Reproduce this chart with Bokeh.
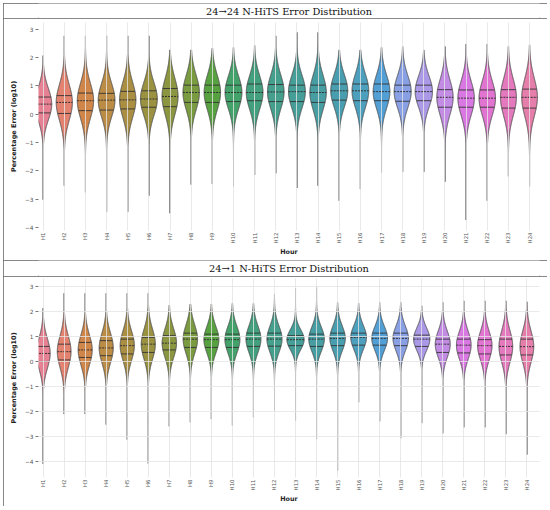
import math
import colorsys
import numpy as np
from bokeh.plotting import figure
from bokeh.layouts import column
from bokeh.models import Range1d, FixedTicker, ColumnDataSource
from bokeh.core.properties import value
from bokeh.embed import file_html
from bokeh.resources import INLINE

# ---------------- data ----------------
hours = [f"H{i}" for i in range(1, 25)]
titles = ["24\u219224 N-HiTS Error Distribution", "24\u21921 N-HiTS Error Distribution"]
y_ticks = [-4, -3, -2, -1, 0, 1, 2, 3]

# panel 1: 24 -> 24
top_q1 = [0.04, 0.02, 0.12, 0.14, 0.18, 0.24, 0.26, 0.41, 0.41, 0.44, 0.47, 0.44,
          0.44, 0.41, 0.49, 0.47, 0.47, 0.45, 0.47, 0.24, 0.24, 0.24, 0.21, 0.21]
top_med = [0.35, 0.41, 0.47, 0.49, 0.50, 0.53, 0.62, 0.76, 0.76, 0.76, 0.76, 0.78,
           0.79, 0.76, 0.82, 0.82, 0.79, 0.79, 0.79, 0.59, 0.56, 0.56, 0.59, 0.59]
top_q3 = [0.60, 0.65, 0.74, 0.73, 0.80, 0.82, 0.90, 1.02, 1.02, 1.02, 1.06, 1.04,
          1.02, 1.02, 1.06, 1.06, 1.06, 1.02, 1.02, 0.86, 0.85, 0.85, 0.86, 0.88]
top_min = [-3.02, -2.53, -2.76, -3.45, -3.45, -2.88, -3.50, -2.49, -2.47, -2.55, -2.15, -2.09,
           -2.61, -2.53, -3.06, -2.65, -2.06, -2.04, -2.04, -2.39, -3.74, -3.06, -2.20, -2.55]
top_max = [2.06, 2.76, 2.76, 2.76, 2.76, 2.76, 2.26, 2.26, 2.32, 2.35, 2.42, 2.76,
           2.88, 2.88, 2.26, 2.26, 2.35, 2.38, 2.26, 2.38, 2.47, 2.47, 2.39, 2.44]

# panel 2: 24 -> 1
bot_q1 = [0.01, 0.07, 0.17, 0.24, 0.31, 0.37, 0.47, 0.57, 0.57, 0.57, 0.61, 0.62,
          0.64, 0.61, 0.64, 0.66, 0.66, 0.64, 0.61, 0.37, 0.35, 0.31, 0.27, 0.27]
bot_med = [0.33, 0.40, 0.47, 0.55, 0.64, 0.70, 0.74, 0.90, 0.88, 0.88, 0.90, 0.90,
           0.88, 0.90, 0.93, 0.97, 0.93, 0.93, 0.90, 0.70, 0.66, 0.64, 0.61, 0.60]
bot_q3 = [0.61, 0.70, 0.77, 0.84, 0.90, 0.97, 1.04, 1.14, 1.10, 1.10, 1.14, 1.14,
          1.04, 1.10, 1.14, 1.14, 1.14, 1.14, 1.06, 0.90, 0.90, 0.88, 0.90, 0.90]
bot_min = [-4.08, -2.09, -2.09, -2.51, -3.11, -4.06, -2.58, -2.42, -2.29, -2.55, -2.22, -1.95,
           -2.35, -3.09, -4.35, -1.62, -2.38, -3.05, -2.45, -2.86, -2.62, -2.62, -2.89, -3.71]
bot_max = [2.14, 2.73, 2.73, 2.73, 2.73, 2.73, 2.26, 2.30, 2.30, 2.33, 2.33, 2.70,
           2.93, 2.97, 2.37, 2.34, 2.37, 2.37, 2.23, 2.37, 2.43, 2.43, 2.43, 2.39]

# ---------------- husl palette (seaborn style) ----------------
_M = [[3.2406, -1.5372, -0.4986], [-0.9689, 1.8758, 0.0415], [0.0557, -0.2040, 1.0570]]
_refU, _refV = 0.19784, 0.46834


def _max_chroma(L, H):
    hr = math.radians(H)
    sH, cH = math.sin(hr), math.cos(hr)
    sub1 = (L + 16) ** 3 / 1560896.0
    sub2 = sub1 if sub1 > 0.008856 else L / 903.3
    res = float("inf")
    for m1, m2, m3 in _M:
        top = (0.99915 * m1 + 1.05122 * m2 + 1.14460 * m3) * sub2
        rb = 0.86330 * m3 - 0.17266 * m2
        lb = 0.12949 * m3 - 0.38848 * m1
        bottom = (rb * sH + lb * cH) * sub2
        for t in (0.0, 1.0):
            C = L * (top - 1.05122 * t) / (bottom + 0.17266 * sH * t)
            if 0 < C < res:
                res = C
    return res


def _husl_to_rgb(H, S, L):
    C = _max_chroma(L, H) / 100.0 * S
    hr = math.radians(H)
    U, V = math.cos(hr) * C, math.sin(hr) * C
    t = (L + 16) / 116.0
    varY = t ** 3 if t ** 3 > 0.008856 else (116 * t - 16) / 903.3
    varU = U / (13 * L) + _refU
    varV = V / (13 * L) + _refV
    Y = varY
    X = -(9 * Y * varU) / ((varU - 4) * varV - varU * varV)
    Z = (9 * Y - 15 * varV * Y - varV * X) / (3 * varV)
    out = []
    for r in _M:
        c = r[0] * X + r[1] * Y + r[2] * Z
        c = 12.92 * c if c <= 0.0031308 else 1.055 * c ** (1 / 2.4) - 0.055
        out.append(min(1.0, max(0.0, c)))
    return out


def palette(n, h=0.01, s=0.9, l=0.65, sat=0.75):
    hues = (np.linspace(0, 1, n + 1)[:-1] + h) % 1 * 359
    cols = []
    for hh in hues:
        r, g, b = _husl_to_rgb(hh, s * 99, l * 99)
        hh2, ll, ss = colorsys.rgb_to_hls(r, g, b)
        r, g, b = colorsys.hls_to_rgb(hh2, ll, ss * sat)
        cols.append("#%02x%02x%02x" % (round(r * 255), round(g * 255), round(b * 255)))
    return cols


colors = palette(len(hours))

W = 544
FONT = "DejaVu Sans"
BORDER = {"outline": "1.5px solid #606060", "outline-offset": "-1.5px"}


def title_fig(text, h):
    t = figure(width=W, height=h, x_range=Range1d(0, 1), y_range=Range1d(0, 1),
               toolbar_location=None, output_backend="svg",
               x_axis_location=None, y_axis_location=None, min_border=0)
    t.grid.visible = False
    t.outline_line_color = None
    t.text(x=[0.5], y=[0.5], text=[text], text_align="center", text_baseline="middle",
           text_font=value("DejaVu Serif"), text_font_size="9.8px", text_color="#111111")
    t.styles = BORDER
    return t


def violin_fig(q1, med, q3, lo, hi, h, yr, ygrid, mt, mb, xr):
    p = figure(width=W, height=h, x_range=Range1d(*xr), y_range=Range1d(*yr),
               toolbar_location=None, output_backend="svg",
               min_border_left=35, min_border_right=W - 35 - int(round((xr[1] - xr[0]) * 21.13)),
               min_border_top=mt, min_border_bottom=mb)
    p.outline_line_color = None
    p.background_fill_color = "white"

    q1a, meda, q3a = np.array(q1), np.array(med), np.array(q3)
    iqr = q3a - q1a
    hw = 0.41 * np.sqrt(iqr.min() / iqr)

    xs, ys = [], []
    segs = {"x0": [], "x1": [], "y": []}
    msegs = {"x0": [], "x1": [], "y": []}
    for i in range(len(hours)):
        sig = iqr[i]
        yy = np.linspace(lo[i], hi[i], 500)
        w = hw[i] * np.exp(-0.5 * ((yy - meda[i]) / sig) ** 2)
        xs.append(list(np.concatenate([i - w, (i + w)[::-1]])))
        ys.append(list(np.concatenate([yy, yy[::-1]])))
        for q, d in ((q1a[i], segs), (q3a[i], segs), (meda[i], msegs)):
            ww = hw[i] * math.exp(-0.5 * ((q - meda[i]) / sig) ** 2)
            d["x0"].append(i - ww)
            d["x1"].append(i + ww)
            d["y"].append(q)

    p.patches(xs=xs, ys=ys, fill_color=colors, line_color="#505050", line_width=1.0)
    p.segment(x0="x0", x1="x1", y0="y", y1="y", source=ColumnDataSource(segs),
              line_color="#333333", line_width=0.9)
    p.segment(x0="x0", x1="x1", y0="y", y1="y", source=ColumnDataSource(msegs),
              line_color="#333333", line_width=1.0, line_dash="2 1")

    # axes
    xa = p.xaxis[0]
    xa.ticker = FixedTicker(ticks=list(range(len(hours))))
    xa.major_label_overrides = {i: hours[i] for i in range(len(hours))}
    xa.major_label_orientation = math.pi / 2
    xa.axis_line_color = None
    xa.major_tick_line_color = None
    xa.minor_tick_line_color = None
    xa.major_tick_out = 0
    xa.major_tick_in = 0
    xa.major_label_standoff = 2
    xa.major_label_text_font = FONT
    xa.major_label_text_font_size = "5.4px"
    xa.major_label_text_color = "#555555"
    xa.axis_label = "Hour"
    xa.axis_label_text_font = FONT
    xa.axis_label_text_font_style = "bold"
    xa.axis_label_text_font_size = "6.4px"
    xa.axis_label_text_color = "#222222"
    xa.axis_label_standoff = 2

    ya = p.yaxis[0]
    ya.ticker = FixedTicker(ticks=y_ticks)
    ya.major_label_overrides = {t: ("\u2212%d" % -t if t < 0 else str(t)) for t in y_ticks}
    ya.axis_line_color = None
    ya.major_tick_line_color = "#777777"
    ya.minor_tick_line_color = None
    ya.major_tick_out = 3
    ya.major_tick_in = 0
    ya.major_label_standoff = 2
    ya.major_label_text_font = FONT
    ya.major_label_text_font_size = "5.8px"
    ya.major_label_text_color = "#555555"
    ya.axis_label = "Percentage Error (log10)"
    ya.axis_label_text_font = FONT
    ya.axis_label_text_font_style = "bold"
    ya.axis_label_text_font_size = "6.5px"
    ya.axis_label_text_color = "#222222"
    ya.axis_label_standoff = 4

    p.xgrid.ticker = FixedTicker(ticks=list(range(len(hours))))
    p.xgrid.grid_line_color = "#e4e4e4"
    p.xgrid.grid_line_alpha = 0.8
    p.xgrid.level = "overlay"
    if ygrid:
        p.ygrid.ticker = FixedTicker(ticks=y_ticks)
        p.ygrid.grid_line_color = "#e4e4e4"
        p.ygrid.grid_line_alpha = 0.8
        p.ygrid.level = "overlay"
    else:
        p.ygrid.visible = False
    p.styles = BORDER
    return p


t1 = title_fig(titles[0], 15)
p1 = violin_fig(top_q1, top_med, top_q3, top_min, top_max, 242, (-4.11, 3.23), False, 4, 30,
                (-0.22, 23.47))
t2 = title_fig(titles[1], 16)
p2 = violin_fig(bot_q1, bot_med, bot_q3, bot_min, bot_max, 230, (-4.62, 3.32), True, 2, 29,
                (-0.22, 23.6))

layout = column(t1, p1, t2, p2, spacing=0, styles={"margin": "3px 0 0 3px"})
open("out.html", "w").write(file_html(layout, INLINE))
